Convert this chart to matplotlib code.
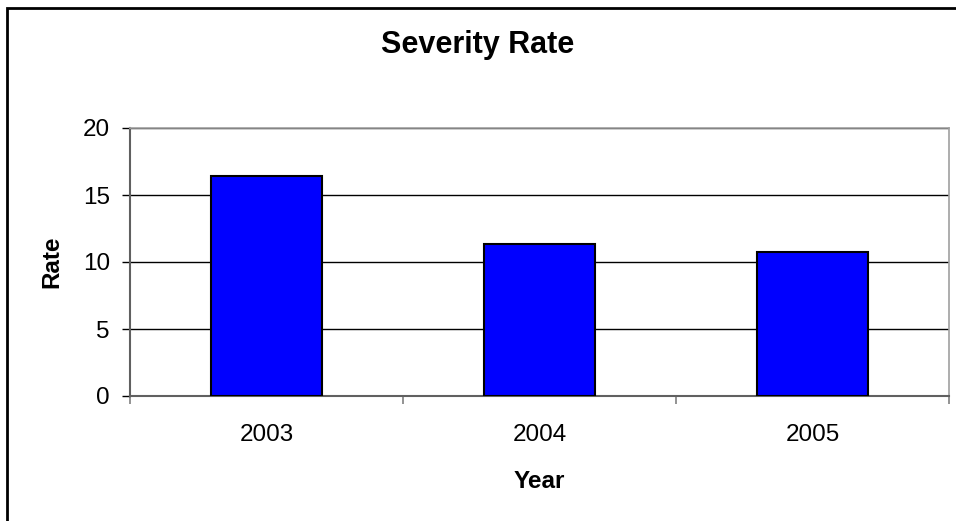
#!/usr/bin/env python3
# -*- coding: utf-8 -*-
"""Severity Rate bar chart (2003-2005)."""
import matplotlib
matplotlib.use("Agg")
import matplotlib.pyplot as plt
from matplotlib.patches import Rectangle

years = ["2003", "2004", "2005"]
rates = [16.4, 11.35, 10.75]
y_ticks = [0, 5, 10, 15, 20]

plt.rcParams["font.family"] = ["Liberation Sans", "DejaVu Sans"]

fig = plt.figure(figsize=(9.56, 5.21), dpi=100)
ax = fig.add_axes([130 / 956, 1 - 396 / 521, 819 / 956, 268 / 521])

x = list(range(len(years)))
ax.bar(x, rates, width=0.405, color="#0000ff", edgecolor="black",
       linewidth=1.5, zorder=3)

ax.set_xlim(-0.5, len(years) - 0.5)
ax.set_ylim(0, 20)
ax.set_yticks(y_ticks)
ax.yaxis.grid(True, color="black", linewidth=1.0, zorder=0)

# categories labelled at centres, ticks at the boundaries
ax.set_xticks(x)
ax.set_xticklabels(years)
ax.set_xticks([i - 0.5 for i in range(len(years) + 1)], minor=True)
ax.tick_params(axis="x", which="major", length=0, pad=20, labelsize=17.5)
ax.tick_params(axis="x", which="minor", length=6, width=1.2, color="#808080")
ax.tick_params(axis="y", length=6, width=1.0, color="black", labelsize=17.5, pad=8.5)

for side in ("top", "right"):
    ax.spines[side].set_color("#a0a0a0")
    ax.spines[side].set_linewidth(1.2)
for side in ("left", "bottom"):
    ax.spines[side].set_color("#606060")
    ax.spines[side].set_linewidth(1.5)

ax.set_xlabel("Year", fontsize=17.5, fontweight="bold", va="center")
ax.xaxis.set_label_coords(0.5, (396 - 481.7) / 268)
ax.set_ylabel("Rate", fontsize=17.5, fontweight="bold", va="center")
ax.yaxis.set_label_coords((51.7 - 130) / 819, 0.5)
fig.text(0.5, 1 - 45 / 521, "Severity Rate", ha="center", va="center",
         fontsize=22, fontweight="bold")

# outer chart frame (right and bottom edges fall outside the image)
fig.add_artist(Rectangle((7 / 956, -0.05), 1.0, 1 - 8 / 521 + 0.05,
                         transform=fig.transFigure, fill=False,
                         edgecolor="black", linewidth=2))

fig.savefig("out.png", dpi=100)
